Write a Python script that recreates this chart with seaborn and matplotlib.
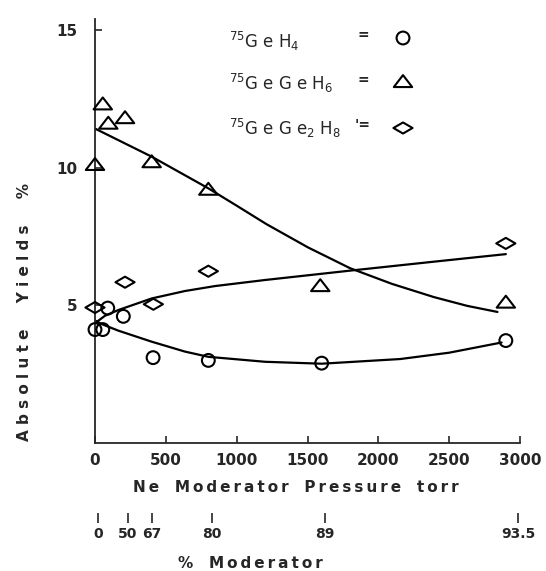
import numpy as np
import pandas as pd
import matplotlib
matplotlib.use("Agg")
import matplotlib.pyplot as plt
from matplotlib.path import Path
import seaborn as sns

# ---------------- data ----------------
geh4_torr = [0, 55, 90, 200, 410, 800, 1600, 2900]
geh4_yield = [4.12, 4.12, 4.9, 4.6, 3.1, 3.0, 2.9, 3.72]

gegeh6_torr = [0, 55, 94, 212, 400, 800, 1590, 2900]
gegeh6_yield = [10.1, 12.3, 11.6, 11.8, 10.2, 9.2, 5.7, 5.1]

gege2h8_torr = [0, 212, 412, 800, 2900]
gege2h8_yield = [4.92, 5.84, 5.04, 6.24, 7.25]

# hand-drawn trend curves
geh4_curve_torr = [0, 47, 165, 400, 635, 800, 1200, 1600, 2155, 2500, 2870]
geh4_curve_yield = [4.45, 4.32, 4.08, 3.68, 3.32, 3.13, 2.95, 2.88, 3.05, 3.28, 3.65]

gegeh6_curve_torr = [0, 400, 800, 1000, 1210, 1505, 1800, 2096, 2392, 2628, 2841]
gegeh6_curve_yield = [11.42, 10.4, 9.25, 8.62, 7.95, 7.1, 6.35, 5.78, 5.3, 4.98, 4.76]

gege2h8_curve_torr = [0, 70, 165, 400, 635, 847, 1200, 1800, 2400, 2900]
gege2h8_curve_yield = [4.35, 4.62, 4.83, 5.25, 5.52, 5.7, 5.92, 6.26, 6.59, 6.86]

x_ticks = [0, 500, 1000, 1500, 2000, 2500, 3000]
y_ticks = [5, 10, 15]

pct_labels = ["0", "50", "67", "80", "89", "93.5"]
pct_torr = [20, 233, 402, 826, 1623, 2985]

species = ["GeH4", "GeGeH6", "GeGe2H8"]
legend_labels = [r"$^{75}$G e H$_4$", r"$^{75}$G e G e H$_6$", r"$^{75}$G e G e$_2$ H$_8$"]
legend_eq = ["=", "=", "'="]

# ---------------- style ----------------
sns.set_style("ticks")
plt.rcParams["font.family"] = ["DejaVu Sans"]
plt.rcParams["mathtext.fontset"] = "dejavusans"


def spaced(s, gap=3, sep="\u2009"):
    return (" " * gap).join(sep.join(w) for w in s.split())


W, H = 546, 571
fig = plt.figure(figsize=(W / 100, H / 100), dpi=100)
ax = fig.add_axes([95 / W, (H - 443) / H, 425 / W, (443 - 19) / H])

tri = Path([(-1, -0.55), (1, -0.55), (0, 0.75), (-1, -0.55)],
           [Path.MOVETO, Path.LINETO, Path.LINETO, Path.CLOSEPOLY])
dia = Path([(-1, 0), (0, 0.58), (1, 0), (0, -0.58), (-1, 0)],
           [Path.MOVETO, Path.LINETO, Path.LINETO, Path.LINETO, Path.CLOSEPOLY])
markers = {"GeH4": "o", "GeGeH6": tri, "GeGe2H8": dia}
sizes = {"GeH4": 85, "GeGeH6": 175, "GeGe2H8": 190}

pts = {
    "GeH4": (geh4_torr, geh4_yield),
    "GeGeH6": (gegeh6_torr, gegeh6_yield),
    "GeGe2H8": (gege2h8_torr, gege2h8_yield),
}
curves = {
    "GeH4": (geh4_curve_torr, geh4_curve_yield),
    "GeGeH6": (gegeh6_curve_torr, gegeh6_curve_yield),
    "GeGe2H8": (gege2h8_curve_torr, gege2h8_curve_yield),
}

for sp in species:
    cx, cy = curves[sp]
    sns.lineplot(x=cx, y=cy, ax=ax, color="black", linewidth=1.6,
                 estimator=None, sort=False, zorder=2)
for sp in species:
    px, py = pts[sp]
    sns.scatterplot(x=px, y=py, ax=ax, marker=markers[sp], s=sizes[sp],
                    facecolor="none", edgecolor="black", linewidth=1.5,
                    zorder=3, clip_on=False)

ax.set_xlim(0, 3000)
ax.set_ylim(0, 15.4)
ax.set_xticks(x_ticks)
ax.set_yticks(y_ticks)
for s in ["top", "right"]:
    ax.spines[s].set_visible(False)
for s in ["left", "bottom"]:
    ax.spines[s].set_linewidth(1.3)
ax.tick_params(direction="in", length=5, width=1.2, labelsize=11, pad=7)
ax.tick_params(axis="y", pad=13)
for lab in ax.get_xticklabels() + ax.get_yticklabels():
    lab.set_fontweight("bold")

ax.set_xlabel(spaced("Ne Moderator Pressure torr"), fontsize=11, fontweight="bold")
ax.xaxis.set_label_coords((296 - 95) / 425, (443 - 488) / 424)
ax.xaxis.label.set_va("center")
ax.set_ylabel(spaced("Absolute Yields %", gap=5, sep=" "), fontsize=11,
              fontweight="bold")
ax.yaxis.set_label_coords((25 - 95) / 425, (443 - 312) / 424)
ax.yaxis.label.set_va("center")

# secondary "% Moderator" scale
sec = ax.secondary_xaxis((443 - 513) / 424)
for s in sec.spines.values():
    s.set_visible(False)
sec.set_xticks(pct_torr, labels=pct_labels)
sec.tick_params(direction="out", length=7, width=1.2, pad=3, labelsize=10)
for lab in sec.get_xticklabels():
    lab.set_fontweight("bold")
fig.text(178 / W, 1 - 563 / H, spaced("% Moderator"), fontsize=11,
         fontweight="bold", ha="left", va="center")

# legend drawn as in the original
rows_text_y = [48, 90, 135]
rows_eq_y = [35, 80, 125]
rows_mk_y = [38, 82, 128]
for sp, lab, eq, ty, ey, my in zip(species, legend_labels, legend_eq,
                                   rows_text_y, rows_eq_y, rows_mk_y):
    fig.text(229 / W, 1 - ty / H, lab, fontsize=12, ha="left", va="baseline")
    fig.text(363 / W, 1 - ey / H, eq, fontsize=10, fontweight="bold",
             ha="center", va="center")
    ax.scatter([403 / W], [1 - my / H], transform=fig.transFigure,
               marker=markers[sp], s=sizes[sp], facecolor="none",
               edgecolor="black", linewidth=1.5, clip_on=False)

fig.savefig("out.png", dpi=100)
